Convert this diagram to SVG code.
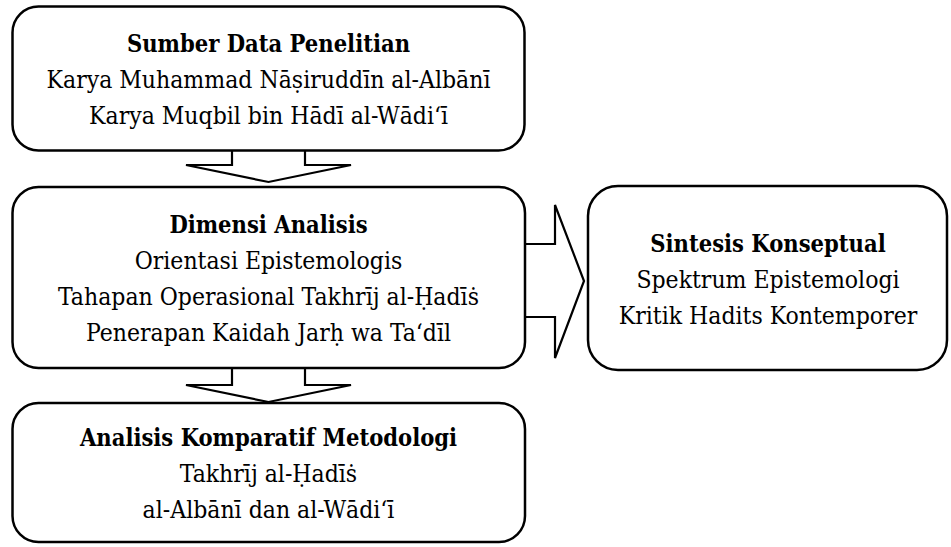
<svg xmlns="http://www.w3.org/2000/svg" width="951" height="547" viewBox="0 0 951 547">
<style>
.box{fill:#fff;stroke:#000;stroke-width:2.5}
.arr{fill:#fff;stroke:#000;stroke-width:2.2;stroke-linejoin:miter}
text{font-family:"DejaVu Serif Condensed","Liberation Serif",serif;font-size:24.5px;fill:#000;text-anchor:middle}
.t{font-weight:bold;font-size:23.5px}
</style>
<rect width="951" height="547" fill="#fff"/>
<g id="connectors">
<polygon class="arr" points="232,140 305,140 305,165 351,165 268.5,182 186,165 232,165"/>
<polygon class="arr" points="232,360 305,360 305,385 351,385 268.5,402 186,385 232,385"/>
<polygon class="arr" points="515,244 555,244 555,205 584,281 555,358 555,317 515,317"/>
</g>
<g id="node-sumber">
<rect class="box" x="12.5" y="6.5" width="512" height="144" rx="26"/>
<text class="t" x="268.5" y="52">Sumber Data Penelitian</text>
<text x="268.5" y="88">Karya Muhammad Nāṣiruddīn al-Albānī</text>
<text x="268.5" y="124">Karya Muqbil bin Hādī al-Wādi‘ī</text>
</g>
<g id="node-dimensi">
<rect class="box" x="12.5" y="187" width="512.5" height="181" rx="26"/>
<text class="t" x="268.5" y="233">Dimensi Analisis</text>
<text x="268.5" y="269">Orientasi Epistemologis</text>
<text x="268.5" y="305">Tahapan Operasional Takhrīj al-Ḥadīṡ</text>
<text x="268.5" y="341">Penerapan Kaidah Jarḥ wa Ta‘dīl</text>
</g>
<g id="node-sintesis">
<rect class="box" x="588" y="186" width="359" height="184" rx="30"/>
<text class="t" x="768" y="252">Sintesis Konseptual</text>
<text x="768" y="288">Spektrum Epistemologi</text>
<text x="768" y="324">Kritik Hadits Kontemporer</text>
</g>
<g id="node-analisis">
<rect class="box" x="12.5" y="403" width="512.5" height="139" rx="26"/>
<text class="t" x="268.5" y="446">Analisis Komparatif Metodologi</text>
<text x="268.5" y="482">Takhrīj al-Ḥadīṡ</text>
<text x="268.5" y="518">al-Albānī dan al-Wādi‘ī</text>
</g>
</svg>
